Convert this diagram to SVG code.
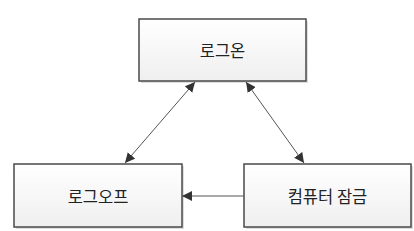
<svg xmlns="http://www.w3.org/2000/svg" width="414" height="231" viewBox="0 0 414 231">
<style>
.box{fill:url(#g);stroke:#4a4a4a;stroke-width:1.5}
.sh{fill:#c8c8c8;opacity:0.6}
.lbl{font-family:"Noto Sans CJK KR","Noto Sans",sans-serif;font-size:16.5px;fill:#222;text-anchor:middle;dominant-baseline:central}
.con{stroke:#555;stroke-width:1;fill:none}
</style>
<defs>
<linearGradient id="g" x1="0" y1="0" x2="0" y2="1">
<stop offset="0" stop-color="#ffffff"/>
<stop offset="1" stop-color="#efefef"/>
</linearGradient>
<marker id="ah" viewBox="0 0 10 10" refX="10" refY="5" markerWidth="10" markerHeight="10" markerUnits="userSpaceOnUse" orient="auto-start-reverse">
<path d="M0,0 L10,5 L0,10 z" fill="#333"/>
</marker>
</defs>
<rect width="414" height="231" fill="#fff"/>
<g id="login">
<rect class="sh" x="141" y="21" width="167" height="62"/>
<rect class="box" x="139" y="19" width="167" height="62"/>
<text class="lbl" x="222.5" y="50">로그온</text>
</g>
<g id="logoff">
<rect class="sh" x="16" y="166" width="168" height="63"/>
<rect class="box" x="14" y="164" width="168" height="63"/>
<text class="lbl" x="98" y="196">로그오프</text>
</g>
<g id="lock">
<rect class="sh" x="246" y="166" width="167" height="63"/>
<rect class="box" x="244" y="164" width="167" height="63"/>
<text class="lbl" x="327.5" y="196">컴퓨터 잠금</text>
</g>
<g id="connectors">
<line class="con" x1="195" y1="82" x2="125" y2="163" marker-start="url(#ah)" marker-end="url(#ah)"/>
<line class="con" x1="246" y1="82" x2="304" y2="163" marker-start="url(#ah)" marker-end="url(#ah)"/>
<line class="con" x1="244" y1="196" x2="182" y2="196" marker-end="url(#ah)"/>
</g>
</svg>
